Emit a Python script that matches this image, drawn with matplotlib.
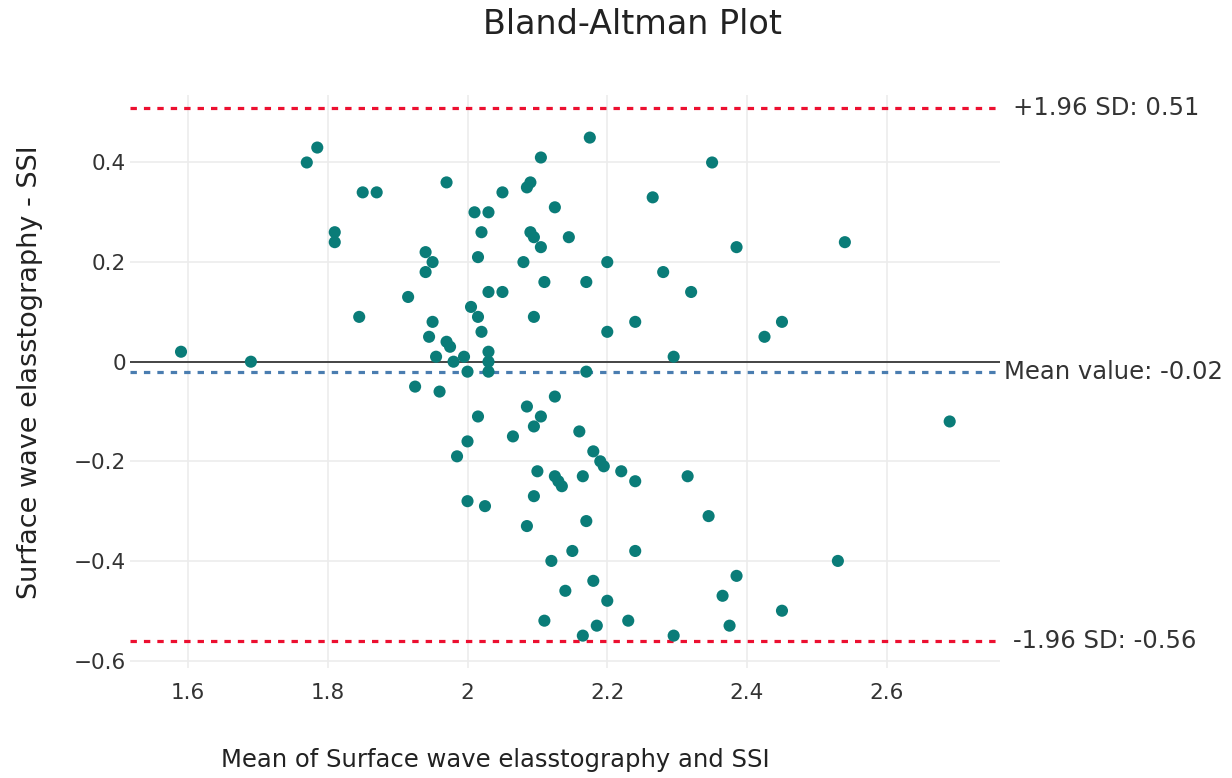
import matplotlib
matplotlib.use("Agg")
import matplotlib.pyplot as plt

# ---- data ----
mean_vals = [
    1.59, 1.69, 1.77, 1.785, 1.85, 1.87, 1.81, 1.81, 1.845, 1.915,
    1.925, 2.175, 2.105, 1.97, 2.09, 2.085, 2.05, 2.265, 2.01, 2.03,
    2.125, 2.02, 2.09, 2.095, 2.145, 2.105, 1.94, 1.95, 1.94, 2.015,
    2.08, 2.20, 2.28, 2.11, 2.17, 2.03, 2.05, 2.32, 2.005, 2.015,
    2.095, 1.95, 2.24, 2.02, 2.20, 1.945, 1.97, 1.975, 1.955, 1.995,
    1.98, 2.03, 2.03, 2.03, 2.00, 2.17, 2.295, 1.96, 2.125, 2.085,
    2.105, 2.015, 2.095, 2.16, 2.065, 2.00, 1.985, 2.18, 2.19, 2.195,
    2.22, 2.10, 2.24, 2.165, 2.125, 2.13, 2.135, 2.315, 2.095, 2.00,
    2.025, 2.17, 2.085, 2.15, 2.24, 2.12, 2.18, 2.14, 2.20, 2.11,
    2.23, 2.185, 2.165, 2.295, 2.345, 2.53, 2.385, 2.365, 2.45, 2.375,
    2.69, 2.35, 2.385, 2.54, 2.45, 2.425,
]
diff_vals = [
    0.02, 0.00, 0.40, 0.43, 0.34, 0.34, 0.26, 0.24, 0.09, 0.13,
    -0.05, 0.45, 0.41, 0.36, 0.36, 0.35, 0.34, 0.33, 0.30, 0.30,
    0.31, 0.26, 0.26, 0.25, 0.25, 0.23, 0.22, 0.20, 0.18, 0.21,
    0.20, 0.20, 0.18, 0.16, 0.16, 0.14, 0.14, 0.14, 0.11, 0.09,
    0.09, 0.08, 0.08, 0.06, 0.06, 0.05, 0.04, 0.03, 0.01, 0.01,
    0.00, 0.02, 0.00, -0.02, -0.02, -0.02, 0.01, -0.06, -0.07, -0.09,
    -0.11, -0.11, -0.13, -0.14, -0.15, -0.16, -0.19, -0.18, -0.20, -0.21,
    -0.22, -0.22, -0.24, -0.23, -0.23, -0.24, -0.25, -0.23, -0.27, -0.28,
    -0.29, -0.32, -0.33, -0.38, -0.38, -0.40, -0.44, -0.46, -0.48, -0.52,
    -0.52, -0.53, -0.55, -0.55, -0.31, -0.40, -0.43, -0.47, -0.50, -0.53,
    -0.12, 0.40, 0.23, 0.24, 0.08, 0.05,
]
mean_diff = -0.02
upper_loa = 0.51
lower_loa = -0.56
x_ticks = [1.6, 1.8, 2.0, 2.2, 2.4, 2.6]
x_tick_labels = ["1.6", "1.8", "2", "2.2", "2.4", "2.6"]
y_ticks = [-0.6, -0.4, -0.2, 0.0, 0.2, 0.4]
y_tick_labels = ["\u22120.6", "\u22120.4", "\u22120.2", "0", "0.2", "0.4"]

title = "Bland-Altman Plot"
x_label = "Mean of Surface wave elasstography and SSI"
y_label = "Surface wave elasstography - SSI"
upper_text = f"+1.96 SD: {upper_loa:.2f}"
mean_text = f"Mean value: {mean_diff:.2f}"
lower_text = f"-1.96 SD: {lower_loa:.2f}"

# ---- figure ----
plt.rcParams['font.family'] = ['DejaVu Sans']
W, H = 1232, 778
fig = plt.figure(figsize=(W / 100, H / 100), dpi=100)
ax_left, ax_right, ax_top, ax_bottom = 130, 1000, 95, 668
ax = fig.add_axes([ax_left / W, 1 - ax_bottom / H,
                   (ax_right - ax_left) / W, (ax_bottom - ax_top) / H])

ax.set_xlim(1.517, 2.762)
ax.set_ylim(-0.615, 0.5355)

for s in ax.spines.values():
    s.set_visible(False)
ax.set_xticks(x_ticks)
ax.set_xticklabels(x_tick_labels)
ax.set_yticks(y_ticks)
ax.set_yticklabels(y_tick_labels)
ax.tick_params(axis='both', length=0, labelsize=15.5, colors='#333333')
ax.tick_params(axis='x', pad=11)
ax.tick_params(axis='y', pad=3)
ax.grid(True, color='#ececec', linewidth=1.2)
ax.set_axisbelow(True)

# zero line
ax.axhline(0, color='#444444', linewidth=1.4, zorder=1)
# limits of agreement and mean
dot = (0, (2.0, 2.2))
ax.axhline(upper_loa, color='#ec1030', linewidth=2.3, linestyle=dot, zorder=2)
ax.axhline(lower_loa, color='#ec1030', linewidth=2.3, linestyle=dot, zorder=2)
ax.axhline(mean_diff, color='#4a7db0', linewidth=2.3, linestyle=dot, zorder=2)

ax.scatter(mean_vals, diff_vals, s=76, color='#0a7c78', edgecolors='none', zorder=3)

# annotations right of the plot
txt_kw = dict(xycoords=('axes fraction', 'data'), textcoords='offset points',
              va='center', ha='left', fontsize=17.5, color='#333333',
              annotation_clip=False)
ax.annotate(upper_text, xy=(1, upper_loa), xytext=(9, 0), **txt_kw)
ax.annotate(mean_text, xy=(1, mean_diff), xytext=(3, 0), **txt_kw)
ax.annotate(lower_text, xy=(1, lower_loa), xytext=(9, 0), **txt_kw)

fig.text(0.513, 1 - 25 / H, title, ha='center', va='center', fontsize=24, color='#222222')
fig.text(495 / W, 1 - 760 / H, x_label, ha='center', va='center',
         fontsize=17.5, color='#222222')
fig.text(30 / W, 1 - 372 / H, y_label, ha='center', va='center', rotation=90,
         fontsize=19.5, color='#222222')

fig.savefig("out.png", dpi=100)
